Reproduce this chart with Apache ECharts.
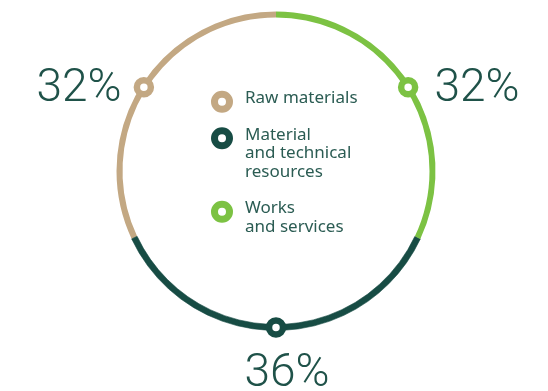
<!DOCTYPE html>
<html>
<head>
<meta charset="utf-8">
<script src="https://cdn.jsdelivr.net/npm/echarts@6/dist/echarts.min.js"></script>
<style>
  html, body { margin: 0; padding: 0; background: #fff; }
  #main { width: 548px; height: 391px; }
</style>
</head>
<body>
<div id="main"></div>
<script>
// legend order; ring runs counter-clockwise from the top in this order
const categories = ['Raw materials', 'Material\nand technical\nresources', 'Works\nand services'];
const shares = [32, 36, 32];
const colors = ['#c3a883', '#174c44', '#7cc243'];
const labelSides = ['left', 'bottom', 'right'];

const chart = echarts.init(document.getElementById('main'));

const cx = 276, cy = 171, R = 156.5;
const textColor = '#1f5249';

// marker angles sit in the middle of each arc
let cum = 0;
const markers = shares.map((v, i) => {
    const mid = cum + v / 2;
    cum += v;
    const side = labelSides[i];
    return {
        value: [1, mid],
        itemStyle: { borderColor: colors[i] },
        label: {
            show: true,
            position: side,
            distance: side === 'left' ? 12 : side === 'right' ? 16 : 14,
            offset: side === 'bottom' ? [11, 0] : [0, 2]
        }
    };
});

// legend drawn as graphic elements
const legendItems = [];
let ly = 101.7;
categories.forEach((name, i) => {
    const lines = name.split('\n').length;
    legendItems.push({
        type: 'circle',
        shape: { cx: 222, cy: ly, r: 7.5 },
        style: { fill: '#fff', stroke: colors[i], lineWidth: 7 }
    });
    legendItems.push({
        type: 'text',
        x: 245,
        y: ly - 12.5,
        style: {
            text: name,
            fill: '#2b5c53',
            font: '17px "Noto Sans"',
            lineHeight: 18.5,
            verticalAlign: 'top'
        }
    });
    ly += lines * 18.5 + 18;
});

chart.setOption({
    animation: false,
    polar: { center: [cx, cy], radius: R },
    angleAxis: {
        type: 'value', min: 0, max: 100, startAngle: 90, clockwise: false,
        axisLine: { show: false }, axisTick: { show: false },
        axisLabel: { show: false }, splitLine: { show: false }
    },
    radiusAxis: {
        type: 'value', min: 0, max: 1,
        axisLine: { show: false }, axisTick: { show: false },
        axisLabel: { show: false }, splitLine: { show: false }
    },
    series: [
        {
            type: 'pie',
            center: [cx, cy],
            radius: [R - 3, R + 3],
            startAngle: 90,
            clockwise: false,
            silent: true,
            label: { show: false },
            labelLine: { show: false },
            data: shares.map((v, i) => ({
                name: categories[i],
                value: v,
                itemStyle: {
                    color: colors[i],
                    borderColor: colors[i],
                    borderWidth: i === 1 ? 0.6 : 0
                }
            }))
        },
        {
            type: 'scatter',
            coordinateSystem: 'polar',
            symbol: 'circle',
            symbolSize: 14,
            itemStyle: { color: '#fff', borderWidth: 6.5, opacity: 1 },
            label: {
                formatter: p => shares[p.dataIndex] + '%',
                fontFamily: 'Roboto',
                fontWeight: 300,
                fontSize: 46,
                color: textColor
            },
            data: markers,
            z: 5
        }
    ],
    graphic: legendItems
});
</script>
</body>
</html>
